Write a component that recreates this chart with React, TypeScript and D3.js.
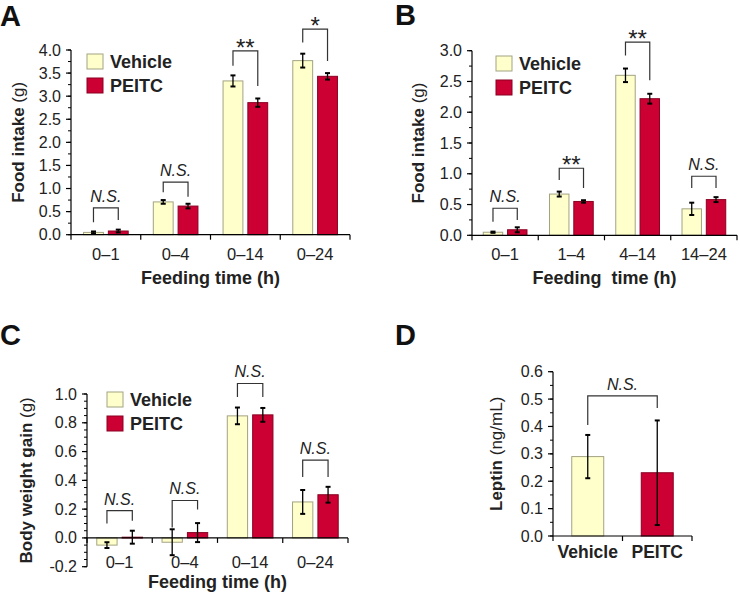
import React from 'react';
import * as d3 from 'd3';

// ---------- DATA ----------
const seriesNames = ['Vehicle', 'PEITC'];

// Panel A: cumulative food intake
const categoriesA = ['0–1', '0–4', '0–14', '0–24'];
const vehicleA = [0.05, 0.71, 3.33, 3.77];
const vehicleErrA = [0.02, 0.04, 0.12, 0.15];
const peitcA = [0.08, 0.62, 2.86, 3.43];
const peitcErrA = [0.03, 0.05, 0.09, 0.07];
const sigA = ['N.S.', 'N.S.', '**', '*'];
const bracketTopA = [0.58, 1.14, 3.98, 4.45];
const bracketLeftA = [0.27, 0.92, 3.66, 4.16];
const bracketRightA = [0.32, 0.82, 3.22, 3.76];
const ticksA = [0, 0.5, 1, 1.5, 2, 2.5, 3, 3.5, 4];

// Panel B: interval food intake
const categoriesB = ['0–1', '1–4', '4–14', '14–24'];
const vehicleB = [0.05, 0.67, 2.6, 0.43];
const vehicleErrB = [0.01, 0.04, 0.11, 0.1];
const peitcB = [0.09, 0.55, 2.22, 0.58];
const peitcErrB = [0.04, 0.02, 0.08, 0.04];
const sigB = ['N.S.', '**', '**', 'N.S.'];
const bracketTopB = [0.44, 1.09, 3.14, 0.96];
const bracketLeftB = [0.22, 0.9, 2.92, 0.77];
const bracketRightB = [0.25, 0.77, 2.52, 0.77];
const ticksB = [0, 0.5, 1, 1.5, 2, 2.5, 3];

// Panel C: body weight gain
const categoriesC = ['0–1', '0–4', '0–14', '0–24'];
const vehicleC = [-0.05, -0.03, 0.848, 0.25];
const vehicleErrC = [0.02, 0.09, 0.058, 0.083];
const peitcC = [0.005, 0.037, 0.855, 0.3];
const peitcErrC = [0.045, 0.066, 0.048, 0.055];
const sigC = ['N.S.', 'N.S.', 'N.S.', 'N.S.'];
const bracketTopC = [0.19, 0.26, 1.073, 0.54];
const bracketLeftC = [0.1, 0.072, 0.98, 0.424];
const bracketRightC = [0.12, 0.197, 0.98, 0.424];
const ticksC = [-0.2, 0, 0.2, 0.4, 0.6, 0.8, 1.0];

// Panel D: leptin
const categoriesD = ['Vehicle', 'PEITC'];
const valuesD = [0.29, 0.231];
const errD = [0.079, 0.191];
const sigD = 'N.S.';
const bracketTopD = 0.512;
const bracketLeftD = 0.405;
const bracketRightD = 0.467;
const ticksD = [0, 0.1, 0.2, 0.3, 0.4, 0.5, 0.6];

// ---------- STYLE ----------
const FONT = '"Liberation Sans", Arial, Helvetica, sans-serif';
const VEH_FILL = '#ffffcc';
const VEH_STROKE = '#a3a383';
const PE_FILL = '#cc0033';
const PE_STROKE = '#8a0022';
const fills = [VEH_FILL, PE_FILL];
const strokes = [VEH_STROKE, PE_STROKE];

type PanelCfg = {
  categories: string[];
  vals: number[][];
  errs: number[][];
  sig: string[];
  brTop: number[];
  brL: number[];
  brR: number[];
  ticks: number[];
  minorStep: number;
  x0: number; x1: number;
  yBot: number; yTop: number;
  domain: [number, number];
  pad: number;
  letter: string; letterX: number; letterY: number;
  yTitle: string; yUnit: string; yTitleX: number;
  xTitle: string; xTitleY: number; xLabelY: number;
  legendX: number; legendY: number;
};

function ErrorBar({ x, y1, y2 }: { x: number; y1: number; y2: number }) {
  return (
    <g stroke="#000">
      <line x1={x} x2={x} y1={y1} y2={y2} strokeWidth={1.3} />
      <line x1={x - 2.5} x2={x + 2.5} y1={y1} y2={y1} strokeWidth={2} />
      <line x1={x - 2.5} x2={x + 2.5} y1={y2} y2={y2} strokeWidth={2} />
    </g>
  );
}

function Bracket({ xl, xr, yTop, yL, yR, label }: { xl: number; xr: number; yTop: number; yL: number; yR: number; label: string }) {
  const isNS = label === 'N.S.';
  return (
    <g>
      <path d={`M${xl},${yL}V${yTop}H${xr}V${yR}`} fill="none" stroke="#333" strokeWidth={1.2} />
      <text
        x={(xl + xr) / 2}
        y={isNS ? yTop - 6 : yTop + 5}
        textAnchor="middle"
        fontStyle={isNS ? 'italic' : 'normal'}
        fontSize={isNS ? 16 : 24}
        fill="#222"
      >
        {label}
      </text>
    </g>
  );
}

function YAxis({ x, y, ticks, minorStep, domain }: { x: number; y: d3.ScaleLinear<number, number>; ticks: number[]; minorStep: number; domain: [number, number] }) {
  const minors = d3.range(domain[0], domain[1] + 1e-9, minorStep);
  return (
    <g>
      <line x1={x} x2={x} y1={y(domain[0])} y2={y(domain[1])} stroke="#000" strokeWidth={1.2} />
      {minors.map((m, i) => (
        <line key={'m' + i} x1={x - 3} x2={x} y1={y(m)} y2={y(m)} stroke="#000" strokeWidth={1} />
      ))}
      {ticks.map((t, i) => (
        <g key={i}>
          <line x1={x - 5} x2={x} y1={y(t)} y2={y(t)} stroke="#000" strokeWidth={1.2} />
          <text x={x - 10} y={y(t) + 5.5} textAnchor="end" fontSize={16} fill="#222">
            {t.toFixed(1)}
          </text>
        </g>
      ))}
    </g>
  );
}

function Legend({ x, y }: { x: number; y: number }) {
  return (
    <g>
      {seriesNames.map((s, i) => (
        <g key={s} transform={`translate(${x},${y + i * 24})`}>
          <rect x={0} y={0} width={16} height={15} fill={fills[i]} stroke={strokes[i]} strokeWidth={1} />
          <text x={23} y={14} fontSize={18} fontWeight="bold" fill="#222">{s}</text>
        </g>
      ))}
    </g>
  );
}

function BarPanel({ c }: { c: PanelCfg }) {
  const x = d3.scaleBand<string>().domain(c.categories).range([c.x0, c.x1]);
  const bw = x.bandwidth();
  const xs = d3.scaleBand<string>().domain(seriesNames).range([bw * c.pad, bw * (1 - c.pad)]).paddingInner(0.2);
  const y = d3.scaleLinear().domain(c.domain).range([c.yBot, c.yTop]);
  const zeroY = y(Math.max(0, c.domain[0]));
  const boundaries = d3.range(c.categories.length + 1).map((i) => c.x0 + i * bw);
  const midY = (c.yBot + c.yTop) / 2;
  return (
    <g>
      <text x={c.letterX} y={c.letterY} fontSize={29} fontWeight="bold" fill="#111">{c.letter}</text>
      {c.categories.map((cat, ci) => (
        <g key={cat}>
          {seriesNames.map((s, si) => {
            const v = c.vals[si][ci];
            const e = c.errs[si][ci];
            const bx = (x(cat) as number) + (xs(s) as number);
            const top = Math.min(y(v), zeroY);
            const h = Math.abs(y(v) - zeroY);
            return (
              <g key={s}>
                <rect x={bx} y={top} width={xs.bandwidth()} height={Math.max(h, 0.8)} fill={fills[si]} stroke={strokes[si]} strokeWidth={1} />
                <ErrorBar x={bx + xs.bandwidth() / 2} y1={y(v + e)} y2={y(v - e)} />
              </g>
            );
          })}
          <Bracket
            xl={(x(cat) as number) + (xs('Vehicle') as number) + xs.bandwidth() / 2}
            xr={(x(cat) as number) + (xs('PEITC') as number) + xs.bandwidth() / 2}
            yTop={y(c.brTop[ci])}
            yL={y(c.brL[ci])}
            yR={y(c.brR[ci])}
            label={c.sig[ci]}
          />
          <text x={(x(cat) as number) + bw / 2} y={c.xLabelY} textAnchor="middle" fontSize={16.5} fill="#222">{cat}</text>
        </g>
      ))}
      <line x1={c.x0} x2={c.x1} y1={zeroY} y2={zeroY} stroke="#000" strokeWidth={1.2} />
      {boundaries.map((b, i) => (
        <line key={i} x1={b} x2={b} y1={zeroY} y2={zeroY + 5} stroke="#000" strokeWidth={1.2} />
      ))}
      <YAxis x={c.x0} y={y} ticks={c.ticks} minorStep={c.minorStep} domain={c.domain} />
      <text
        transform={`translate(${c.yTitleX},${midY}) rotate(-90)`}
        textAnchor="middle"
        fontSize={17}
        fill="#222"
      >
        <tspan fontWeight="bold">{c.yTitle}</tspan>
        <tspan fontWeight="normal">{' ' + c.yUnit}</tspan>
      </text>
      <text x={(c.x0 + c.x1) / 2} y={c.xTitleY} textAnchor="middle" fontSize={18} fontWeight="bold" fill="#222" style={{ whiteSpace: 'pre' }}>
        {c.xTitle}
      </text>
      <Legend x={c.legendX} y={c.legendY} />
    </g>
  );
}

const panelA: PanelCfg = {
  categories: categoriesA,
  vals: [vehicleA, peitcA],
  errs: [vehicleErrA, peitcErrA],
  sig: sigA, brTop: bracketTopA, brL: bracketLeftA, brR: bracketRightA,
  ticks: ticksA, minorStep: 0.25,
  x0: 71, x1: 350, yBot: 234.7, yTop: 50, domain: [0, 4], pad: 0.18,
  letter: 'A', letterX: 0, letterY: 26,
  yTitle: 'Food intake', yUnit: '(g)', yTitleX: 24,
  xTitle: 'Feeding time (h)', xTitleY: 284, xLabelY: 260,
  legendX: 87, legendY: 54,
};

const panelB: PanelCfg = {
  categories: categoriesB,
  vals: [vehicleB, peitcB],
  errs: [vehicleErrB, peitcErrB],
  sig: sigB, brTop: bracketTopB, brL: bracketLeftB, brR: bracketRightB,
  ticks: ticksB, minorStep: 0.25,
  x0: 472, x1: 737, yBot: 235.3, yTop: 50.7, domain: [0, 3], pad: 0.17,
  letter: 'B', letterX: 395, letterY: 25,
  yTitle: 'Food intake', yUnit: '(g)', yTitleX: 424,
  xTitle: 'Feeding  time (h)', xTitleY: 284, xLabelY: 260,
  legendX: 496, legendY: 56,
};

const panelC: PanelCfg = {
  categories: categoriesC,
  vals: [vehicleC, peitcC],
  errs: [vehicleErrC, peitcErrC],
  sig: sigC, brTop: bracketTopC, brL: bracketLeftC, brR: bracketRightC,
  ticks: ticksC, minorStep: 0.05,
  x0: 87, x1: 348, yBot: 566.7, yTop: 394, domain: [-0.2, 1.0], pad: 0.15,
  letter: 'C', letterX: 0, letterY: 345,
  yTitle: 'Body weight gain', yUnit: '(g)', yTitleX: 32,
  xTitle: 'Feeding time (h)', xTitleY: 588, xLabelY: 568,
  legendX: 107, legendY: 392,
};

function PanelD() {
  const x0 = 553, x1 = 692;
  const x = d3.scaleBand<string>().domain(categoriesD).range([x0, x1]).paddingInner(0.54).paddingOuter(0.27);
  const y = d3.scaleLinear().domain([0, 0.6]).range([536, 371.7]);
  const cx = (i: number) => (x(categoriesD[i]) as number) + x.bandwidth() / 2;
  const step = (x1 - x0) / 2;
  return (
    <g>
      <text x={395} y={345} fontSize={29} fontWeight="bold" fill="#111">D</text>
      {categoriesD.map((cat, i) => (
        <g key={cat}>
          <rect x={x(cat)} y={y(valuesD[i])} width={x.bandwidth()} height={y(0) - y(valuesD[i])} fill={fills[i]} stroke={strokes[i]} strokeWidth={1} />
          <ErrorBar x={cx(i)} y1={y(valuesD[i] + errD[i])} y2={y(valuesD[i] - errD[i])} />
          <text x={x0 + step * (i + 0.5)} y={558} textAnchor="middle" fontSize={17.5} fontWeight="bold" fill="#222">{cat}</text>
        </g>
      ))}
      <Bracket xl={cx(0)} xr={cx(1)} yTop={y(bracketTopD)} yL={y(bracketLeftD)} yR={y(bracketRightD)} label={sigD} />
      <line x1={x0} x2={x1} y1={y(0)} y2={y(0)} stroke="#000" strokeWidth={1.2} />
      {[0, 1, 2].map((i) => (
        <line key={i} x1={x0 + i * step} x2={x0 + i * step} y1={y(0)} y2={y(0) + 5} stroke="#000" strokeWidth={1.2} />
      ))}
      <YAxis x={x0} y={y} ticks={ticksD} minorStep={0.05} domain={[0, 0.6]} />
      <text transform={`translate(502,${(536 + 371.7) / 2}) rotate(-90)`} textAnchor="middle" fontSize={17} fill="#222">
        <tspan fontWeight="bold">Leptin</tspan>
        <tspan fontWeight="normal"> (ng/mL)</tspan>
      </text>
    </g>
  );
}

export default function App() {
  return (
    <svg
      width={740}
      height={594}
      viewBox="0 0 740 594"
      style={{ position: 'absolute', left: 0, top: 0, background: '#fff', fontFamily: FONT }}
    >
      <rect x={0} y={0} width={740} height={594} fill="#fff" />
      <BarPanel c={panelA} />
      <BarPanel c={panelB} />
      <BarPanel c={panelC} />
      <PanelD />
    </svg>
  );
}
